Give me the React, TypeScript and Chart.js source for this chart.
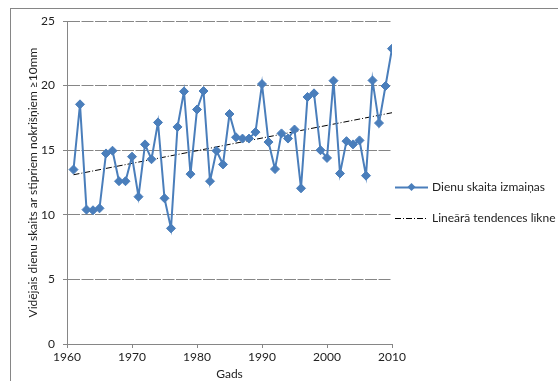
import React, { useEffect, useRef } from "react";
import { Chart, registerables } from "chart.js";

Chart.register(...registerables);

const years = [
  1961, 1962, 1963, 1964, 1965, 1966, 1967, 1968, 1969, 1970,
  1971, 1972, 1973, 1974, 1975, 1976, 1977, 1978, 1979, 1980,
  1981, 1982, 1983, 1984, 1985, 1986, 1987, 1988, 1989, 1990,
  1991, 1992, 1993, 1994, 1995, 1996, 1997, 1998, 1999, 2000,
  2001, 2002, 2003, 2004, 2005, 2006, 2007, 2008, 2009, 2010,
];
const dayCounts = [
  13.5, 18.55, 10.4, 10.35, 10.5, 14.75, 14.96, 12.6, 12.6, 14.5,
  11.4, 15.45, 14.3, 17.15, 11.28, 8.95, 16.8, 19.55, 13.15, 18.15,
  19.58, 12.6, 14.96, 13.9, 17.8, 16.0, 15.9, 15.9, 16.4, 20.12,
  15.63, 13.54, 16.3, 15.9, 16.6, 12.05, 19.12, 19.4, 15.0, 14.4,
  20.38, 13.2, 15.7, 15.45, 15.76, 13.03, 20.4, 17.1, 19.97, 22.86,
];
const trendYears = [1961, 2010];
const trendValues = [13.1, 17.9];

const seriesLabel = "Dienu skaita izmaiņas";
const trendLabel = "Lineārā tendences līkne";
const yTitle = "Vidējais dienu skaits ar stipriem nokrišņiem ≥10mm";
const xTitle = "Gads";

const FONT = "Lato";
const BLUE = "#4a7ebb";
const GREY = "#868686";

const framePlugin = {
  id: "frame",
  beforeDraw(chart: any) {
    const ctx = chart.ctx;
    ctx.save();
    ctx.strokeStyle = GREY;
    ctx.lineWidth = 1;
    ctx.strokeRect(10.5, 8.5, 700, 500);
    ctx.restore();
  },
};

const legendPlugin = {
  id: "customLegend",
  afterDraw(chart: any) {
    const ctx = chart.ctx;
    const ds = chart.data.datasets;
    const x0 = chart.chartArea.right + 3;
    const ys = [187, 218];
    ctx.save();
    ds.forEach((d: any, i: number) => {
      const y = ys[i];
      ctx.beginPath();
      ctx.strokeStyle = d.borderColor;
      ctx.lineWidth = d.borderWidth;
      ctx.setLineDash(d.borderDash || []);
      ctx.moveTo(x0, y + 0.5);
      ctx.lineTo(x0 + 33, y + 0.5);
      ctx.stroke();
      ctx.setLineDash([]);
      if (d.pointRadius > 0) {
        const cx = x0 + 16.5;
        const r = 4;
        ctx.beginPath();
        ctx.fillStyle = d.pointBackgroundColor;
        ctx.moveTo(cx, y - r);
        ctx.lineTo(cx + r, y);
        ctx.lineTo(cx, y + r);
        ctx.lineTo(cx - r, y);
        ctx.closePath();
        ctx.fill();
      }
      ctx.fillStyle = "#222";
      ctx.font = `12px ${FONT}`;
      ctx.textBaseline = "middle";
      ctx.textAlign = "left";
      ctx.fillText(d.label, x0 + 37, y);
    });
    ctx.restore();
  },
};

export default function App() {
  const ref = useRef<HTMLCanvasElement>(null);
  useEffect(() => {
    if (!ref.current) return;
    const chart = new Chart(ref.current, {
      type: "line",
      data: {
        datasets: [
          {
            label: seriesLabel,
            data: years.map((y, i) => ({ x: y, y: dayCounts[i] })),
            borderColor: BLUE,
            backgroundColor: BLUE,
            pointBackgroundColor: BLUE,
            pointBorderColor: BLUE,
            borderWidth: 2,
            pointStyle: "rectRot",
            pointRadius: 4.5,
            pointBorderWidth: 1,
            tension: 0,
          } as any,
          {
            label: trendLabel,
            data: trendYears.map((y, i) => ({ x: y, y: trendValues[i] })),
            borderColor: "#000",
            borderWidth: 1,
            borderDash: [6, 2, 1, 2],
            pointRadius: 0,
            tension: 0,
          } as any,
        ],
      },
      options: {
        animation: false,
        responsive: false,
        maintainAspectRatio: false,
        layout: { padding: { left: 0, top: 21, right: 166, bottom: 0 } },
        plugins: {
          legend: { display: false },
          tooltip: { enabled: false },
        },
        scales: {
          x: {
            type: "linear",
            min: 1960,
            max: 2010,
            afterFit: (s: any) => { s.height = 37; },
            ticks: {
              stepSize: 10,
              callback: (v: any) => String(v),
              font: { family: FONT, size: 12 },
              color: "#222",
              padding: 2,
              maxRotation: 0,
            },
            grid: {
              drawOnChartArea: false,
              drawTicks: true,
              tickLength: 4,
              color: GREY,
            },
            border: { color: GREY },
            title: {
              display: true,
              text: xTitle,
              font: { family: FONT, size: 12 },
              color: "#222",
              padding: { top: 0, bottom: 0 },
            },
          },
          y: {
            min: 0,
            max: 25,
            afterFit: (s: any) => { s.width = 67; },
            ticks: {
              stepSize: 5,
              font: { family: FONT, size: 12 },
              color: "#222",
              padding: 8,
            },
            grid: {
              color: GREY,
              tickLength: 4,
            },
            border: { color: GREY, dash: [12, 1.5] },
            title: {
              display: true,
              text: yTitle,
              font: { family: FONT, size: 12 },
              color: "#222",
              padding: { top: 26, bottom: 0 },
            },
          },
        },
      },
      plugins: [framePlugin, legendPlugin],
    });
    return () => chart.destroy();
  }, []);
  return (
    <div style={{ position: "absolute", left: 0, top: 0, width: 558, height: 381, background: "#fff" }}>
      <canvas ref={ref} width={558} height={381} style={{ display: "block", width: 558, height: 381 }} />
    </div>
  );
}
